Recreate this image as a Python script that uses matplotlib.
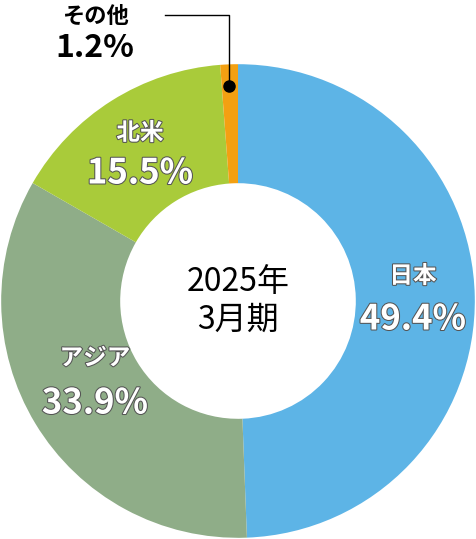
import matplotlib
matplotlib.use("Agg")
import matplotlib.pyplot as plt
import matplotlib.patheffects as pe

plt.rcParams['font.family'] = ['Noto Sans CJK JP', 'DejaVu Sans']

# data
labels = ["日本", "アジア", "北米", "その他"]
shares = [49.4, 33.9, 15.5, 1.2]
colors = ["#5DB4E6", "#8FAD88", "#A9CB3A", "#F3A012"]

fig = plt.figure(figsize=(4.76, 5.39), dpi=100)
ax = fig.add_axes([0, 0.0, 1, 476 / 539])

ax.pie(shares, colors=colors, startangle=90, counterclock=False, radius=0.995,
       wedgeprops=dict(width=0.5, edgecolor="none"))
ax.set_aspect("auto")
ax.set_xlim(-1, 1)
ax.set_ylim(-1, 1)
ax.axis("off")


def px(x, y):
    # convert pixel position in the picture to data coords
    return (x - 238) / 238, (300 - y) / 238


outline = [pe.withStroke(linewidth=1.5, foreground="#555555")]
spots = {"日本": (413, 275, 318), "アジア": (95, 357, 402), "北米": (140, 132, 172)}
for name, share in zip(labels[:3], shares[:3]):
    x, y1, y2 = spots[name]
    ax.text(*px(x, y1), name, ha="center", va="center", color="white",
            fontsize=17, fontweight="bold", path_effects=outline, clip_on=False)
    ax.text(*px(x, y2), f"{share}%", ha="center", va="center", color="white",
            fontsize=25, fontweight="bold", path_effects=outline, clip_on=False)

ax.text(*px(95, 15), labels[3], ha="center", va="center", fontsize=16,
        fontweight="bold", clip_on=False)
ax.text(*px(95, 47), f"{shares[3]}%", ha="center", va="center", fontsize=23,
        fontweight="bold", clip_on=False)
lx, ly = zip(px(165, 14), px(229, 14), px(229, 85))
ax.plot(lx, ly, color="black", lw=1, clip_on=False)
ax.plot(*px(229, 85), "o", color="black", ms=8)

ax.text(0, 0, "2025年\n3月期", ha="center", va="center", fontsize=23, linespacing=1.2)

fig.savefig("out.png", dpi=100)
